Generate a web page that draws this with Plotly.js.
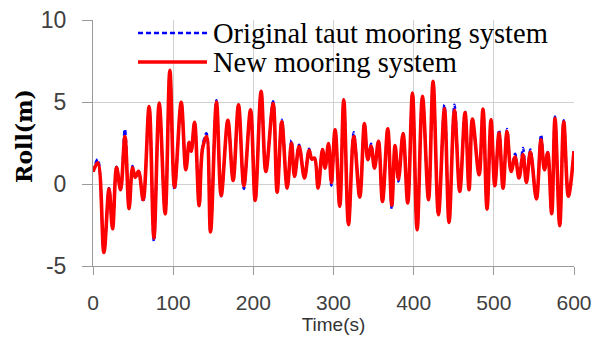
<!DOCTYPE html>
<html>
<head>
<meta charset="utf-8">
<script src="https://cdn.plot.ly/plotly-3.0.1.min.js"></script>
<style>html,body{margin:0;padding:0;background:#fff;}#chart{width:604px;height:343px;}</style>
</head>
<body>
<div id="chart"></div>
<script>
// Time (s) of read turning points
var time = [0,6,13.6,20,24.4,29.4,34.4,39.8,45,49.3,52.6,56.8,62.6,70,76,82.6,90,95.9,101.7,110,115.8,120,122.5,126.7,132.4,136.6,141.6,146.6,154,159.9,168.2,174.8,181.5,188.2,196.5,202.3,209.7,215.6,224.7,229.7,235.5,242.2,247.6,251.4,257.1,263.8,269.6,273,276.3,280.8,286.3,289.5,293.8,297.3,302,307.8,312.8,318.7,325.3,332.8,338.6,342.8,346.9,351.1,356.1,361.1,367.7,372.7,376.8,381,386.8,392.6,398.5,404.3,411,418.5,424.2,430.9,438.4,444.1,450.9,457.5,464.1,469.1,473.3,481.6,486.5,491.5,496.5,501.2,506.5,511.5,516.5,521.5,526.5,531.4,536.4,540.6,545.6,553.1,558.9,563.1,567.2,572.2,576.3,582.2,587.2,593,600];
// Roll (m), original taut mooring system
var rollOriginal = [0.75,1.5,-4.17,-0.25,-2.73,1.05,-0.35,3.35,-1.53,1.1,0.37,0.8,-1.1,4.73,-3.5,4.94,-1.81,6.93,-0.35,4.98,0.87,2.6,2.0,3.76,-1.32,2.3,3.1,-2.93,5.1,-0.75,3.88,0.22,4.83,-0.3,4.53,-1.06,5.65,0.77,5.04,-0.55,3.92,-0.25,2.66,0.46,2.4,0.37,2.15,1.52,1.6,-0.25,2.13,0.97,2.46,-0.1,3.31,-1.36,5.14,-2.48,3.15,-0.8,3.68,1.48,2.45,0.97,2.6,-1.06,3.37,-1.53,2.34,0.16,3.07,-1.16,5.55,-2.79,5.34,-0.96,6.26,-1.87,4.83,-2.34,4.83,-0.45,4.43,-0.35,3.96,0.57,4.57,-1.53,3.92,-0.1,3.3,-0.25,3.35,0.77,1.85,0.37,2.2,0.1,2.1,-0.91,3.0,0.87,1.95,-1.81,4.12,-2.54,3.88,-0.75,2.0];
// Roll (m), new mooring system
var rollNew = [0.75,1.3,-4.17,-0.3,-2.73,1.0,-0.35,2.9,-1.5,1.0,0.4,0.77,-0.95,4.73,-3.3,4.94,-1.81,6.93,-0.2,4.98,0.87,2.55,2.0,3.76,-1.32,2.15,2.9,-2.93,5.0,-0.7,3.88,0.22,4.83,-0.1,4.53,-1.0,5.65,0.77,4.9,-0.5,3.8,-0.25,2.5,0.46,2.3,0.37,2.05,1.52,1.58,-0.25,2.1,0.97,2.46,0.1,3.31,-1.36,5.14,-2.48,2.9,-0.8,3.68,1.48,2.3,0.97,2.6,-1.06,3.37,-1.3,2.34,0.3,3.07,-1.16,5.55,-2.79,5.34,-0.96,6.26,-1.87,4.6,-2.34,4.5,-0.45,4.35,-0.35,3.96,0.57,4.57,-1.53,3.92,-0.1,3.1,-0.25,3.2,0.77,1.65,0.37,1.8,0.1,1.95,-0.91,2.7,0.87,1.9,-1.81,4.0,-2.54,3.8,-0.75,2.0];
var seriesNames = ["Original taut mooring system", "New mooring system"];
var xTicks = [0,100,200,300,400,500,600];
var yTicks = [-5,0,5,10];

var traces = [
  {x: time, y: rollOriginal, name: seriesNames[0], mode: 'lines',
   line: {color: '#0000ff', width: 2.5, dash: '5px,3px', shape: 'spline', smoothing: 1}},
  {x: time, y: rollNew, name: seriesNames[1], mode: 'lines',
   line: {color: '#ff0000', width: 3.6, shape: 'spline', smoothing: 1}}
];

var sans = 'Liberation Sans, Arial, sans-serif';
var layout = {
  width: 604, height: 343,
  margin: {l: 93, r: 30, t: 20, b: 77},
  paper_bgcolor: '#fff', plot_bgcolor: '#fff',
  showlegend: false,
  xaxis: {range: [0, 600], tickvals: xTicks, ticktext: xTicks.map(String),
    showgrid: true, gridcolor: '#d0d0d0', gridwidth: 1, zeroline: false,
    showline: true, linecolor: '#9a9a9a', linewidth: 1,
    ticks: 'outside', ticklen: 8, tickcolor: '#9a9a9a', ticklabelstandoff: 10,
    tickfont: {family: sans, size: 21, color: '#404040'},
    title: {text: 'Time(s)', font: {family: sans, size: 19, color: '#333'}, standoff: 0}},
  yaxis: {range: [-5, 10], tickvals: yTicks, ticktext: yTicks.map(String),
    showgrid: true, gridcolor: '#d0d0d0', gridwidth: 1, zeroline: false,
    showline: true, linecolor: '#9a9a9a', linewidth: 1,
    ticks: 'outside', ticklen: 10, tickcolor: '#9a9a9a', ticklabelstandoff: 11,
    tickfont: {family: sans, size: 23, color: '#404040'},
    title: {text: '&nbsp;&nbsp;<b>Roll(m)</b>', font: {family: 'DejaVu Serif, serif', size: 22, color: '#000'}, standoff: 2}},
  shapes: [
    {type: 'line', xref: 'paper', yref: 'paper', x0: 0.0936, x1: 0.237, y0: 0.947, y1: 0.947,
     line: {color: '#0000ff', width: 2.5, dash: '5px,3px'}},
    {type: 'line', xref: 'paper', yref: 'paper', x0: 0.0936, x1: 0.237, y0: 0.829, y1: 0.829,
     line: {color: '#ff0000', width: 3.6}}
  ],
  annotations: [
    {xref: 'paper', yref: 'paper', x: 0.246, y: 0.947, xanchor: 'left', yanchor: 'middle', showarrow: false,
     text: seriesNames[0], font: {family: 'Liberation Serif, Times New Roman, serif', size: 28.5, color: '#000'}},
    {xref: 'paper', yref: 'paper', x: 0.246, y: 0.829, xanchor: 'left', yanchor: 'middle', showarrow: false,
     text: seriesNames[1], font: {family: 'Liberation Serif, Times New Roman, serif', size: 28.5, color: '#000'}}
  ]
};
Plotly.newPlot('chart', traces, layout, {displayModeBar: false, staticPlot: true});
</script>
</body>
</html>
